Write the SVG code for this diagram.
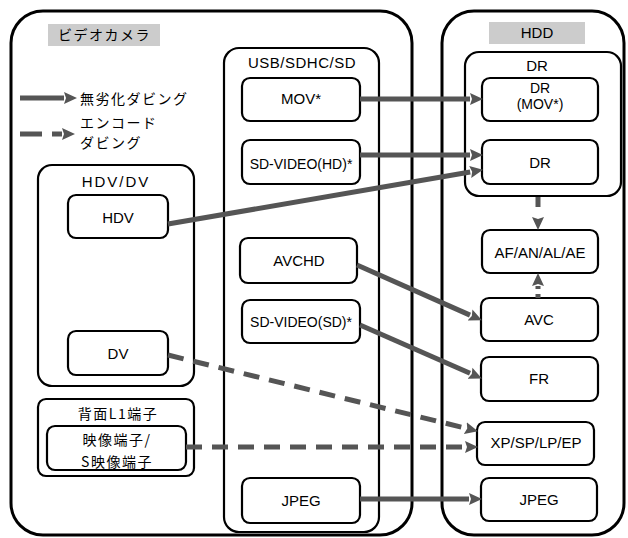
<svg xmlns="http://www.w3.org/2000/svg" width="628" height="538" viewBox="0 0 628 538">
<style>
.big{fill:#fff;stroke:#000;stroke-width:3}
.box{fill:#fff;stroke:#000;stroke-width:2.2}
.lbl{fill:#cccccc;stroke:none}
.t{font-family:"Liberation Sans",Arial,sans-serif;font-size:15px;fill:#000;text-anchor:middle}
.s{font-size:14px}
.j{font-family:"Noto Sans CJK JP","Liberation Sans",sans-serif;font-size:14px;fill:#000;letter-spacing:1.5px}
.c{text-anchor:middle}
.a{fill:none;stroke:#555;stroke-width:5;marker-end:url(#ah)}
.d{stroke-dasharray:16 10}
</style>
<defs>
<marker id="ah" markerUnits="userSpaceOnUse" markerWidth="14" markerHeight="14" refX="0" refY="7" orient="auto" viewBox="0 0 14 14">
<path d="M0,1 L13,7 L0,13 L2,7 Z" fill="#555"/>
</marker>
</defs>
<rect width="628" height="538" fill="#fff"/>
<g id="camera">
<rect class="big" x="11" y="11" width="401" height="524" rx="32"/>
<rect class="lbl" x="48" y="24" width="112" height="22"/>
<text class="j" x="58" y="40">ビデオカメラ</text>
</g>
<g id="hdd">
<rect class="big" x="442" y="11" width="182" height="524" rx="32"/>
<rect class="lbl" x="489" y="22" width="96" height="22"/>
<text class="t" x="537" y="38" font-size="16">HDD</text>
</g>
<g id="legend">
<text class="j" x="80" y="104">無劣化ダビング</text>
<text class="j" x="80" y="128">エンコード</text>
<text class="j" x="80" y="148">ダビング</text>
</g>
<g id="usb">
<rect class="box" x="224" y="48" width="155" height="484" rx="15"/>
<text class="t" x="302" y="68" letter-spacing="0.5">USB/SDHC/SD</text>
</g>
<g id="mov"><rect class="box" x="242" y="78" width="118" height="43" rx="8"/><text class="t" x="301" y="104">MOV*</text></g>
<g id="sdhd"><rect class="box" x="242" y="140" width="118" height="44" rx="8"/><text class="t s" x="301" y="169">SD-VIDEO(HD)*</text></g>
<g id="avchd"><rect class="box" x="240" y="238" width="117" height="45" rx="8"/><text class="t" x="299" y="266">AVCHD</text></g>
<g id="sdsd"><rect class="box" x="242" y="300" width="118" height="43" rx="8"/><text class="t s" x="301" y="327">SD-VIDEO(SD)*</text></g>
<g id="jpegl"><rect class="box" x="242" y="478" width="118" height="45" rx="8"/><text class="t" x="301" y="506">JPEG</text></g>
<g id="hdvdv">
<rect class="box" x="38" y="165" width="156" height="221" rx="14"/>
<text class="t" x="116" y="187" font-size="16" letter-spacing="2">HDV/DV</text>
</g>
<g id="hdv"><rect class="box" x="68" y="195" width="100" height="43" rx="8"/><text class="t" x="118" y="223">HDV</text></g>
<g id="dv"><rect class="box" x="68" y="331" width="100" height="44" rx="8"/><text class="t" x="118" y="359">DV</text></g>
<g id="l1">
<rect class="box" x="38" y="399" width="156" height="77" rx="8"/>
<text class="j c" x="118" y="419" letter-spacing="2.5">背面L1端子</text>
</g>
<g id="vterm">
<rect class="box" x="47" y="426" width="139" height="44" rx="8"/>
<text class="j c" x="117" y="445" letter-spacing="0.5">映像端子/</text>
<text class="j c" x="117" y="467" font-size="15" letter-spacing="0.5">S映像端子</text>
</g>
<g id="drgroup">
<rect class="box" x="465" y="52" width="156" height="144" rx="14"/>
<text class="t" x="537" y="71">DR</text>
</g>
<g id="drmov"><rect class="box" x="482" y="78" width="116" height="43" rx="8"/><text class="t s" x="540" y="93">DR</text><text class="t s" x="540" y="109">(MOV*)</text></g>
<g id="dr"><rect class="box" x="482" y="140" width="116" height="44" rx="8"/><text class="t" x="540" y="168">DR</text></g>
<g id="af"><rect class="box" x="482" y="230" width="116" height="43" rx="8"/><text class="t" x="540" y="258">AF/AN/AL/AE</text></g>
<g id="avc"><rect class="box" x="481" y="298" width="117" height="43" rx="8"/><text class="t" x="539" y="325">AVC</text></g>
<g id="fr"><rect class="box" x="481" y="357" width="117" height="44" rx="8"/><text class="t" x="539" y="384">FR</text></g>
<g id="xp"><rect class="box" x="477" y="422" width="117" height="43" rx="8"/><text class="t" x="536" y="448">XP/SP/LP/EP</text></g>
<g id="jpegr"><rect class="box" x="481" y="478" width="116" height="43" rx="8"/><text class="t" x="539" y="505">JPEG</text></g>
<g id="connectors">
<path class="a" d="M20,98 H64"/>
<path class="a" d="M20,134 H62" stroke-dasharray="22 10"/>
<path class="a" d="M360,99 H470"/>
<path class="a" d="M360,155 H470"/>
<path class="a" d="M168,224 L470.2,172"/>
<path class="a" d="M357,265 L470,315.1"/>
<path class="a" d="M360,325 L470,373.2"/>
<path class="a d" d="M168,355 L465.3,428.1"/>
<path class="a d" d="M186,447 H465"/>
<path class="a" d="M360,499 H469"/>
<path class="a" d="M538,197 V217" stroke-dasharray="10 10"/>
<path class="a" d="M538,298 V286" stroke-dasharray="4 5"/>
</g>
</svg>
